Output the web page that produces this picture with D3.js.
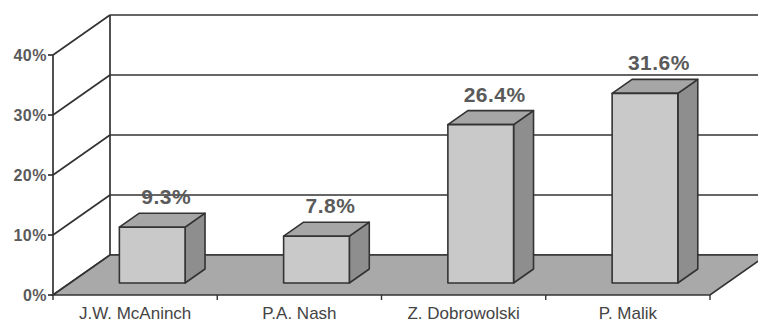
<!DOCTYPE html>
<html>
<head>
<meta charset="utf-8">
<script src="https://cdn.jsdelivr.net/npm/d3@7"></script>
<style>
  html, body { margin: 0; padding: 0; background: #fff; }
  svg { display: block; }
  text { font-family: "Liberation Sans", Arial, sans-serif; }
</style>
</head>
<body>
<svg id="chart" width="758" height="323"></svg>
<script>
// Share of cases per author
const categories = ["J.W. McAninch", "P.A. Nash", "Z. Dobrowolski", "P. Malik"];
const values = [9.3, 7.8, 26.4, 31.6];
const valueLabels = ["9.3%", "7.8%", "26.4%", "31.6%"];
const yTicks = [0, 10, 20, 30, 40];
const yTickLabels = ["0%", "10%", "20%", "30%", "40%"];

const svg = d3.select("#chart");

// Oblique 3D projection: front plane origin, depth vector
const originX = 53, originY = 295;
const plotW = 657, plotH = 240;
const depthX = 57, depthY = -40;
const barZ0 = 0.3, barZ1 = 0.65;

const x = d3.scaleBand().domain(categories).range([0, plotW]).paddingInner(0.6).paddingOuter(0.3);
const xBand = d3.scaleBand().domain(categories).range([0, plotW]);
const y = d3.scaleLinear().domain([0, 40]).range([0, plotH]);

function P(px, py, z) {
  return [originX + px + depthX * z, originY - py + depthY * z];
}
const line = d3.line();
const lineColor = "#333";

// Back wall gridlines
const back = svg.append("g");
yTicks.forEach(t => {
  back.append("path")
    .attr("d", line([P(0, y(t), 1), P(plotW, y(t), 1)]))
    .attr("stroke", lineColor).attr("stroke-width", 1.7).attr("fill", "none");
});
back.append("path")
  .attr("d", line([P(0, 0, 1), P(0, y(40), 1)]))
  .attr("stroke", lineColor).attr("stroke-width", 1.7);

// Side wall gridlines
yTicks.forEach(t => {
  back.append("path")
    .attr("d", line([P(0, y(t), 0), P(0, y(t), 1)]))
    .attr("stroke", lineColor).attr("stroke-width", 1.7).attr("fill", "none");
});

// Floor
svg.append("path")
  .attr("d", line([P(0, 0, 0), P(plotW, 0, 0), P(plotW, 0, 1), P(0, 0, 1)]) + "Z")
  .attr("fill", "#a9a9a9").attr("stroke", lineColor).attr("stroke-width", 1.7);

// Bars
const bars = svg.append("g");
categories.forEach((c, i) => {
  const x0 = x(c), x1 = x(c) + x.bandwidth();
  const h = y(values[i]);
  // right side face
  bars.append("path")
    .attr("d", line([P(x1, 0, barZ0), P(x1, 0, barZ1), P(x1, h, barZ1), P(x1, h, barZ0)]) + "Z")
    .attr("fill", "#8e8e8e").attr("stroke", lineColor).attr("stroke-width", 1.6).attr("stroke-linejoin", "round");
  // top face
  bars.append("path")
    .attr("d", line([P(x0, h, barZ0), P(x1, h, barZ0), P(x1, h, barZ1), P(x0, h, barZ1)]) + "Z")
    .attr("fill", "#a6a6a6").attr("stroke", lineColor).attr("stroke-width", 1.6).attr("stroke-linejoin", "round");
  // front face
  bars.append("path")
    .attr("d", line([P(x0, 0, barZ0), P(x1, 0, barZ0), P(x1, h, barZ0), P(x0, h, barZ0)]) + "Z")
    .attr("fill", "#c9c9c9").attr("stroke", lineColor).attr("stroke-width", 1.6).attr("stroke-linejoin", "round");
  // value label
  const top = P(x0 + x.bandwidth() / 2, h, barZ1);
  bars.append("text")
    .attr("x", top[0] - 6).attr("y", top[1] - 9)
    .attr("text-anchor", "middle")
    .attr("font-size", 21).attr("font-weight", "bold").attr("letter-spacing", 0.5)
    .attr("fill", "#5a5a5a")
    .text(valueLabels[i]);
});

// Front value axis
const axis = svg.append("g");
axis.append("path")
  .attr("d", line([P(0, 0, 0), P(0, y(40), 0)]))
  .attr("stroke", lineColor).attr("stroke-width", 1.7);
yTicks.forEach((t, i) => {
  const p = P(0, y(t), 0);
  axis.append("path").attr("d", line([[p[0] - 5, p[1]], p]))
    .attr("stroke", lineColor).attr("stroke-width", 1.7);
  axis.append("text")
    .attr("x", p[0] - 6).attr("y", p[1] + 6)
    .attr("text-anchor", "end")
    .attr("font-size", 16).attr("font-weight", "bold").attr("letter-spacing", 0.5)
    .attr("fill", "#5a5a5a")
    .text(yTickLabels[i]);
});

// Category axis along the front edge of the floor
xBand.domain().concat([null]).forEach((c, i) => {
  const px = c === null ? plotW : xBand(c);
  const p = P(px, 0, 0);
  axis.append("path").attr("d", line([p, [p[0], p[1] + 5]]))
    .attr("stroke", lineColor).attr("stroke-width", 1.4);
});
categories.forEach(c => {
  const p = P(xBand(c) + xBand.bandwidth() / 2, 0, 0);
  axis.append("text")
    .attr("x", p[0]).attr("y", 318.5)
    .attr("text-anchor", "middle")
    .attr("font-size", 17)
    .attr("fill", "#444")
    .text(c);
});
</script>
</body>
</html>
